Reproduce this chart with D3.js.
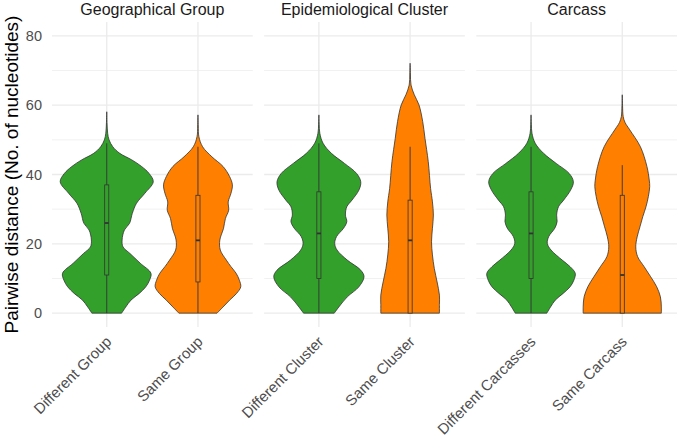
<!DOCTYPE html>
<html><head><meta charset="utf-8">
<script src="https://cdn.jsdelivr.net/npm/d3@7"></script>
<style>body{margin:0;background:#fff} text{font-family:"Liberation Sans",Arial,Helvetica,sans-serif}</style>
</head><body><svg id="c" width="678" height="448"></svg>
<script>
// ---------- data ----------
const facets = ["Geographical Group", "Epidemiological Cluster", "Carcass"];
const categories = [
  ["Different Group", "Same Group"],
  ["Different Cluster", "Same Cluster"],
  ["Different Carcasses", "Same Carcass"]
];
const groupKind = ["Different", "Same"];
const colors = ["#33a02c", "#ff7f00"];
const yTicks = [0, 20, 40, 60, 80];
const yMinor = [10, 30, 50, 70];
const yTitle = "Pairwise distance (No. of nucleotides)";

// violin density profiles: [distance, relative density]
const diffGroupDensity = [[0,.32],[1.8,.41],[3.75,.52],[5.7,.70],[7.6,.84],[9.5,.92],[11.5,.95],[14.4,.72],[17.2,.50],[19.1,.35],[21.1,.33],[24,.38],[25.9,.49],[28.8,.55],[31.7,.64],[34.6,.82],[37.9,1.0],[40.3,.91],[42.3,.75],[44.2,.54],[46.1,.28],[48,.13],[50,.05],[51.9,.02],[55,.006],[58.1,0]];
const sameGroupDensity = [[0,.41],[1.8,.54],[3.75,.68],[5.7,.83],[7.6,.92],[9.5,.89],[11.5,.82],[13.4,.71],[15.3,.61],[18.2,.48],[21.1,.47],[24.5,.55],[27.3,.59],[29.7,.66],[32.1,.65],[34.6,.71],[37,.74],[39.4,.68],[42.3,.54],[45.1,.30],[48,.10],[50.9,.02],[54,.006],[57.2,0]];
const diffClusterDensity = [[0,.33],[1.8,.43],[4.7,.61],[7.6,.86],[10.5,.97],[12.4,.90],[15.3,.61],[18.2,.39],[20.1,.34],[22.1,.38],[24.5,.53],[26.4,.60],[28.3,.57],[30.7,.60],[32.6,.71],[35.5,.86],[37.9,.90],[40.3,.81],[43.2,.55],[46.1,.27],[49,.09],[51.9,.02],[54.5,.006],[57.2,0]];
const sameClusterDensity = [[0,.63],[2.5,.63],[5.2,.63],[9,.58],[12.9,.52],[16.8,.48],[20.6,.46],[24.5,.48],[28.3,.50],[32.1,.48],[36,.44],[43.7,.39],[50.4,.32],[55.3,.27],[60.1,.19],[63,.09],[65.8,.02],[69,.006],[72.1,0]];
const diffCarcassDensity = [[0,.34],[1.8,.42],[3.75,.52],[5.7,.69],[7.6,.84],[9.5,.92],[11.5,.95],[13.4,.84],[15.3,.67],[18.2,.43],[20.1,.35],[22.1,.38],[24.5,.51],[26.4,.56],[28.3,.55],[30.7,.59],[32.6,.70],[35.5,.85],[37.9,.91],[40.3,.82],[43.2,.54],[46.1,.27],[49,.09],[51.9,.02],[54.5,.006],[57.2,0]];
const sameCarcassDensity = [[0,.84],[1.8,.84],[4.7,.82],[7.6,.74],[10.5,.61],[13.4,.47],[16.3,.33],[19.1,.29],[22,.32],[24.9,.38],[27.8,.44],[30.7,.51],[33.6,.56],[36.5,.59],[38.4,.58],[42.3,.53],[48,.39],[52.9,.16],[55,.06],[56.7,.02],[60,.006],[63,0]];
const densities = [
  [diffGroupDensity, sameGroupDensity],
  [diffClusterDensity, sameClusterDensity],
  [diffCarcassDensity, sameCarcassDensity]
];
// box stats: [whiskerLow, q1, median, q3, whiskerHigh]
const boxStats = [
  [[0, 11, 26, 37, 49], [0, 9, 21, 34, 48]],
  [[0, 10, 23, 35, 49], [0, 0, 21, 32.6, 48]],
  [[0, 10, 23, 35, 48], [0, 0, 11, 34, 42.7]]
];

// ---------- layout ----------
const svg = d3.select("#c");
const panelTop = 22, panelBottom = 327;
const y = d3.scaleLinear().domain([-4, 84]).range([panelBottom, panelTop]);
const fx = d3.scaleBand().domain(facets).range([52, 677]).paddingInner(0.054).paddingOuter(0);

facets.forEach((f, fi) => {
  const x0 = fx(f), x1 = x0 + fx.bandwidth();
  const x = d3.scalePoint().domain(categories[fi]).range([x0, x1]).padding(0.6);
  const step = x.step();
  const w = d3.scaleLinear().domain([0, 1]).range([0, 0.51 * step]);
  const g = svg.append("g");

  // grid
  g.selectAll(".minor").data(yMinor).join("line")
    .attr("x1", x0).attr("x2", x1).attr("y1", d => y(d)).attr("y2", d => y(d))
    .attr("stroke", "#ebebeb").attr("stroke-width", 0.7);
  g.selectAll(".major").data(yTicks).join("line")
    .attr("x1", x0).attr("x2", x1).attr("y1", d => y(d)).attr("y2", d => y(d))
    .attr("stroke", "#ebebeb").attr("stroke-width", 1.3);
  g.selectAll(".vgrid").data(categories[fi]).join("line")
    .attr("x1", d => x(d)).attr("x2", d => x(d)).attr("y1", panelTop).attr("y2", panelBottom)
    .attr("stroke", "#ebebeb").attr("stroke-width", 1.3);

  // strip title
  svg.append("text").attr("x", (x0 + x1) / 2).attr("y", 14.5)
    .attr("text-anchor", "middle").attr("font-size", 16).attr("fill", "#1a1a1a").text(f);

  categories[fi].forEach((c, ci) => {
    const cx = x(c);
    const area = d3.area()
      .y(d => y(d[0]))
      .x0(d => cx - w(d[1]))
      .x1(d => cx + w(d[1]))
      .curve(d3.curveCatmullRom.alpha(0.5));
    g.append("path").attr("d", area(densities[fi][ci]))
      .attr("fill", colors[ci]).attr("stroke", "#333333").attr("stroke-width", 0.8)
      .attr("stroke-linejoin", "round");
    const [lo, q1, med, q3, hi] = boxStats[fi][ci];
    const bw = 0.045 * step;
    g.append("line").attr("x1", cx).attr("x2", cx).attr("y1", y(lo)).attr("y2", y(q1))
      .attr("stroke", "#333333").attr("stroke-width", 0.9);
    g.append("line").attr("x1", cx).attr("x2", cx).attr("y1", y(q3)).attr("y2", y(hi))
      .attr("stroke", "#333333").attr("stroke-width", 0.9);
    g.append("rect").attr("x", cx - bw / 2).attr("width", bw)
      .attr("y", y(q3)).attr("height", y(q1) - y(q3))
      .attr("fill", colors[ci]).attr("stroke", "#333333").attr("stroke-width", 0.8);
    g.append("line").attr("x1", cx - bw / 2).attr("x2", cx + bw / 2).attr("y1", y(med)).attr("y2", y(med))
      .attr("stroke", "#333333").attr("stroke-width", 1.8);

    // x tick label
    svg.append("text")
      .attr("transform", `translate(${cx - 2},${panelBottom + 8}) rotate(-45)`)
      .attr("text-anchor", "end").attr("dy", "0.72em")
      .attr("font-size", 15).attr("fill", "#4d4d4d").text(c);
  });
});

// y axis labels
svg.selectAll(".ytick").data(yTicks).join("text")
  .attr("x", 42).attr("y", d => y(d)).attr("dy", "0.35em")
  .attr("text-anchor", "end").attr("font-size", 14.5).attr("fill", "#4d4d4d").text(d => d);

svg.append("text").attr("transform", `translate(17.5,${(panelTop + panelBottom) / 2}) rotate(-90)`)
  .attr("text-anchor", "middle").attr("font-size", 19).attr("fill", "#000").text(yTitle);
</script></body></html>
